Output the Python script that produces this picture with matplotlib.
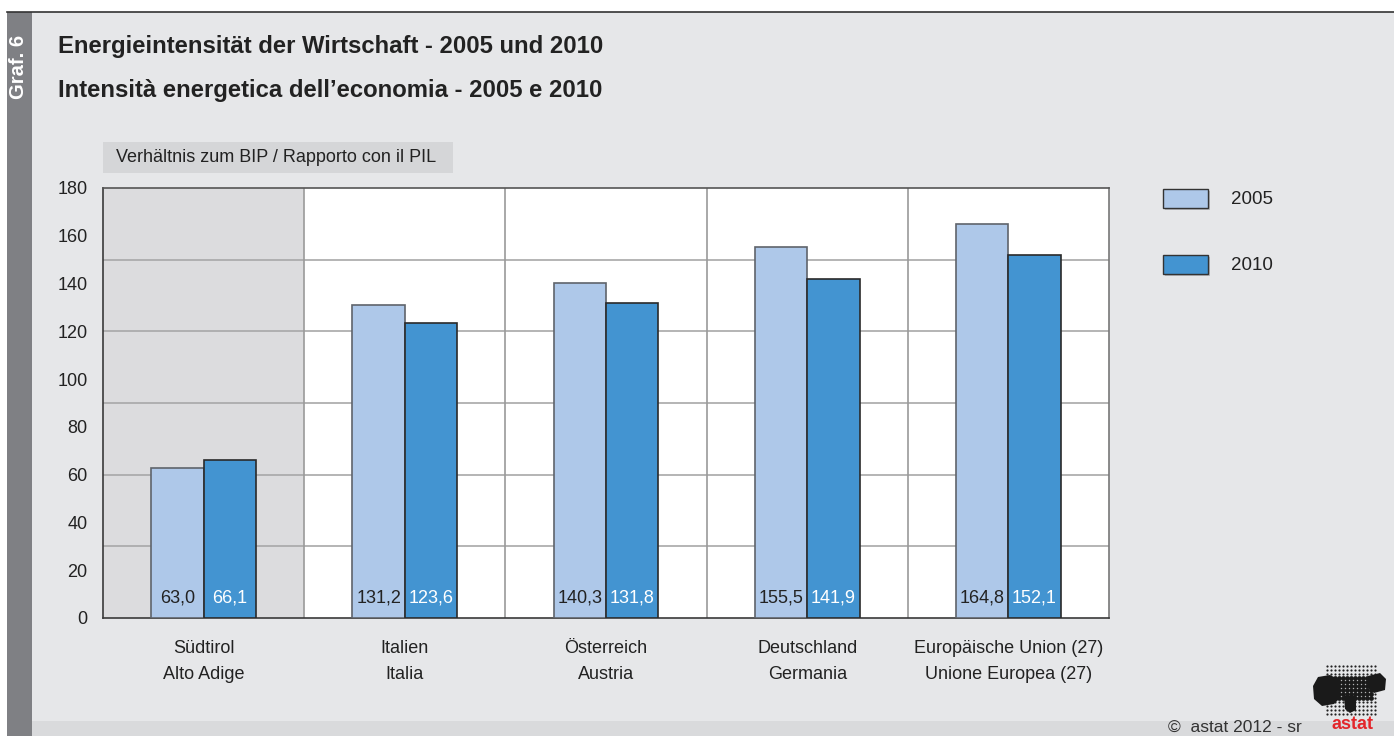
import matplotlib
matplotlib.use("Agg")
import matplotlib.pyplot as plt
from matplotlib.patches import Rectangle, Polygon
import numpy as np

plt.rcParams['font.family'] = ['Liberation Sans', 'DejaVu Sans']

categories = ["Südtirol\nAlto Adige", "Italien\nItalia", "Österreich\nAustria",
              "Deutschland\nGermania", "Europäische Union (27)\nUnione Europea (27)"]
values_2005 = [63.0, 131.2, 140.3, 155.5, 164.8]
values_2010 = [66.1, 123.6, 131.8, 141.9, 152.1]
series_names = ["2005", "2010"]
yticks = [0, 20, 40, 60, 80, 100, 120, 140, 160, 180]
gridlines = [30, 60, 90, 120, 150]

title_de = "Energieintensität der Wirtschaft - 2005 und 2010"
title_it = "Intensità energetica dell’economia - 2005 e 2010"
unit_label = "Verhältnis zum BIP / Rapporto con il PIL"

c2005 = "#aec8e9"
c2010 = "#4394d1"
BG = "#e6e7e9"

W, H = 1394, 736
fig = plt.figure(figsize=(W / 100, H / 100), dpi=100)
fig.patch.set_facecolor("white")

# background overlay axes in pixel coordinates
bg = fig.add_axes([0, 0, 1, 1], zorder=0)
bg.set_xlim(0, W)
bg.set_ylim(H, 0)
bg.axis("off")
bg.add_patch(Rectangle((7, 12), W - 7, H - 12, facecolor=BG, edgecolor="none"))
bg.add_patch(Rectangle((7, 12), 25, H - 12, facecolor="#7f8084", edgecolor="none"))
bg.add_patch(Rectangle((32, 721), W - 32, 15, facecolor="#d9dadc", edgecolor="none"))
bg.plot([7, W], [12, 12], color="#333333", lw=1.2)
bg.text(19, 67, "Graf. 6", rotation=90, color="white", fontsize=14.5,
        fontweight="bold", ha="center", va="center")
bg.text(58, 47, title_de, fontsize=17.2, fontweight="bold", color="#222222",
        ha="left", va="center")
bg.text(58, 90, title_it, fontsize=17.2, fontweight="bold", color="#222222",
        ha="left", va="center")
bg.add_patch(Rectangle((103, 142), 350, 31, facecolor="#d5d6d8", edgecolor="none"))
bg.text(116, 158, unit_label, fontsize=13, color="#222222", ha="left", va="center")

# legend
for i, (name, col) in enumerate(zip(series_names, [c2005, c2010])):
    y0 = 189 + i * 66
    bg.add_patch(Rectangle((1165, y0 + 2), 45, 19, facecolor="#b8b9bc", edgecolor="none"))
    bg.add_patch(Rectangle((1163, y0), 45, 19, facecolor=col, edgecolor="#333333", lw=1))
    bg.text(1231, y0 + 10, name, fontsize=13.5, color="#222222", ha="left", va="center")

# footer
bg.text(1168, 727, "©  astat 2012 - sr", fontsize=12.5, color="#333333", ha="left", va="center")
bg.text(1352, 716, "astat", fontsize=13, fontweight="bold", color="#e3262b",
        ha="center", va="top")
# logo (decorative dot grid)
xs = np.arange(1327, 1379, 4)
ys = np.arange(666, 716, 4)
gx, gy = np.meshgrid(xs, ys)
bg.scatter(gx.ravel(), gy.ravel(), s=2.5, color="#222222", lw=0)
inner = (gx > 1333) & (gx < 1372) & (gy > 676) & (gy < 702)
bg.scatter(gx[inner], gy[inner], s=12, color="#1a1a1a", lw=0)
bg.add_patch(Polygon([(1313, 686), (1318, 677), (1330, 675), (1340, 680), (1340, 698),
                      (1334, 704), (1322, 706), (1314, 699)], closed=True,
                     facecolor="#1a1a1a", edgecolor="none"))
bg.add_patch(Polygon([(1368, 676), (1380, 673), (1386, 679), (1385, 690), (1374, 693),
                      (1368, 688)], closed=True, facecolor="#1a1a1a", edgecolor="none"))
bg.add_patch(Polygon([(1344, 696), (1356, 696), (1356, 710), (1350, 713), (1345, 709)],
                     closed=True, facecolor="#1a1a1a", edgecolor="none"))

# main chart axes
left = 103 / W
bottom = 1 - 618 / H
width = (1109 - 103) / W
height = (618 - 188) / H
ax = fig.add_axes([left, bottom, width, height], zorder=2)
ax.set_facecolor("white")
x = np.arange(len(categories))
ax.set_xlim(-0.5, len(categories) - 0.5)
ax.set_ylim(0, 180)
ax.axvspan(-0.5, 0.5, color="#dcdcde", zorder=0, lw=0)
for g in gridlines:
    ax.axhline(g, color="#a8a8a8", lw=1.2, zorder=1)
for s in x[:-1] + 0.5:
    ax.axvline(s, color="#9a9a9a", lw=1.2, zorder=1)

bw = 0.26
ax.bar(x - bw / 2, values_2005, bw, color=c2005, edgecolor="#5f646b", lw=1.2, zorder=3)
ax.bar(x + bw / 2, values_2010, bw, color=c2010, edgecolor="#2a2a2a", lw=1.2, zorder=3)

for xi, v in zip(x, values_2005):
    ax.text(xi - bw / 2, 8.5, f"{v:.1f}".replace(".", ","), ha="center", va="center",
            fontsize=13, color="#222222", zorder=4)
for xi, v in zip(x, values_2010):
    ax.text(xi + bw / 2, 8.5, f"{v:.1f}".replace(".", ","), ha="center", va="center",
            fontsize=13, color="white", zorder=4)

ax.set_yticks(yticks)
ax.set_yticklabels([str(t) for t in yticks], fontsize=13, color="#222222")
ax.set_xticks(x)
ax.set_xticklabels(categories, fontsize=13, color="#222222", linespacing=1.65)
ax.tick_params(axis="y", length=0, pad=11)
ax.tick_params(axis="x", length=0, pad=16)
for sp in ax.spines.values():
    sp.set_color("#3a3a3a")
    sp.set_linewidth(1.2)
ax.spines["right"].set_color("#777777")
ax.spines["top"].set_color("#555555")

fig.savefig("out.png", dpi=100, facecolor=fig.get_facecolor())
